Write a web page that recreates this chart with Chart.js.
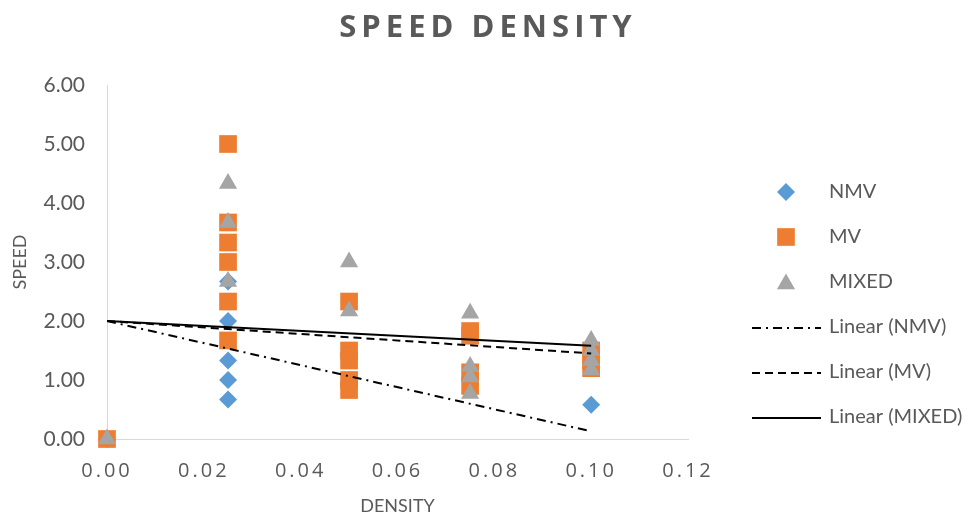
<!DOCTYPE html>
<html>
<head>
<meta charset="utf-8">
<script src="https://cdn.jsdelivr.net/npm/chart.js@4.4.1/dist/chart.umd.min.js"></script>
<style>
  html, body { margin: 0; padding: 0; background: #fff; }
  #wrap { width: 976px; height: 518px; }
</style>
</head>
<body>
<div id="wrap"><canvas id="chart"></canvas></div>
<script>
// x positions (density) and speeds
const nmvDensity = [0, 0.025, 0.025, 0.025, 0.025, 0.025, 0.1];
const nmvSpeed   = [0, 2.67, 2.0, 1.33, 1.0, 0.67, 0.58];

const mvDensity = [0, 0.025, 0.025, 0.025, 0.025, 0.025, 0.025,
                   0.05, 0.05, 0.05, 0.05, 0.05,
                   0.075, 0.075, 0.075, 0.075,
                   0.1, 0.1, 0.1];
const mvSpeed   = [0, 5.0, 3.67, 3.33, 3.0, 2.33, 1.67,
                   2.33, 1.5, 1.33, 1.0, 0.83,
                   1.83, 1.75, 1.13, 0.9,
                   1.5, 1.33, 1.2];

const mixedDensity = [0, 0.025, 0.025, 0.025, 0.05, 0.05,
                      0.075, 0.075, 0.075, 0.075,
                      0.1, 0.1, 0.1, 0.1];
const mixedSpeed   = [0, 4.33, 3.67, 2.67, 3.0, 2.17,
                      2.13, 1.23, 1.05, 0.77,
                      1.67, 1.5, 1.33, 1.17];

// trend line end points
const trendDensity = [0, 0.1];
const nmvTrend   = [2.0, 0.13];
const mvTrend    = [2.0, 1.45];
const mixedTrend = [2.0, 1.58];

const xTicks = [0, 0.02, 0.04, 0.06, 0.08, 0.10, 0.12];
const yTicks = [0, 1, 2, 3, 4, 5, 6];

const legendNames = ['NMV', 'MV', 'MIXED', 'Linear (NMV)', 'Linear (MV)', 'Linear (MIXED)'];

const blue = '#5B9BD5';
const orange = '#ED7D31';
const grey = '#A5A5A5';
const textGrey = '#595959';

function toPoints(xs, ys) {
  return xs.map((x, i) => ({ x: x, y: ys[i] }));
}

const titlePlugin = {
  id: 'titleAndLegend',
  beforeDraw(chart) {
    // widen letter spacing of x tick labels like the original
    const sx = chart.scales.x;
    if (!sx._wrapped) {
      const orig = sx.drawLabels;
      sx.drawLabels = function (area) {
        const c = this.ctx;
        c.save();
        c.letterSpacing = '3px';
        orig.call(this, area);
        c.restore();
      };
      sx._wrapped = true;
    }
  },
  afterDraw(chart) {
    const ctx = chart.ctx;
    ctx.save();
    ctx.letterSpacing = '5px';
    ctx.font = 'bold 31px "Open Sans"';
    ctx.fillStyle = textGrey;
    ctx.textAlign = 'center';
    ctx.textBaseline = 'middle';
    ctx.fillText('SPEED DENSITY', 488, 28);
    ctx.restore();

    // legend
    const startY = 192;
    const gap = 45;
    const markers = [
      { style: 'rectRot', color: blue, r: 9 },
      { style: 'rect', color: orange, r: 12.5 },
      { style: 'triangle', color: grey, r: 10.5 }
    ];
    const dashes = [[9, 5, 2, 5], [8, 5], []];
    ctx.save();
    ctx.font = '20px Lato';
    ctx.textBaseline = 'middle';
    ctx.textAlign = 'left';
    legendNames.forEach((name, i) => {
      const y = startY + i * gap;
      if (i < 3) {
        const m = markers[i];
        ctx.fillStyle = m.color;
        ctx.strokeStyle = m.color;
        Chart.helpers.drawPoint(ctx, { pointStyle: m.style, radius: m.r, borderWidth: 0, rotation: 0 },
          786, m.style === 'triangle' ? y + 2 : y);
      } else {
        ctx.save();
        ctx.strokeStyle = '#000';
        ctx.lineWidth = 2;
        ctx.setLineDash(dashes[i - 3]);
        ctx.beginPath();
        ctx.moveTo(752, y + 1);
        ctx.lineTo(821, y + 1);
        ctx.stroke();
        ctx.restore();
      }
      ctx.fillStyle = textGrey;
      ctx.fillText(name, 829, y);
    });
    ctx.restore();
  }
};

new Chart(document.getElementById('chart'), {
  type: 'scatter',
  data: {
    datasets: [
      {
        label: 'NMV',
        data: toPoints(nmvDensity, nmvSpeed),
        pointStyle: 'rectRot',
        pointRadius: 9,
        backgroundColor: blue,
        borderWidth: 0,
        clip: false,
        order: 6
      },
      {
        label: 'MV',
        data: toPoints(mvDensity, mvSpeed),
        pointStyle: 'rect',
        pointRadius: 12.5,
        backgroundColor: orange,
        borderWidth: 0,
        clip: false,
        order: 5
      },
      {
        label: 'MIXED',
        data: toPoints(mixedDensity, mixedSpeed),
        pointStyle: 'triangle',
        pointRadius: 10.5,
        backgroundColor: grey,
        borderWidth: 0,
        clip: false,
        order: 4
      },
      {
        label: 'Linear (NMV)',
        type: 'line',
        data: toPoints(trendDensity, nmvTrend),
        borderColor: '#000',
        borderWidth: 2,
        borderDash: [9, 5, 2, 5],
        pointRadius: 0,
        fill: false,
        order: 3
      },
      {
        label: 'Linear (MV)',
        type: 'line',
        data: toPoints(trendDensity, mvTrend),
        borderColor: '#000',
        borderWidth: 2,
        borderDash: [8, 5],
        pointRadius: 0,
        fill: false,
        order: 2
      },
      {
        label: 'Linear (MIXED)',
        type: 'line',
        data: toPoints(trendDensity, mixedTrend),
        borderColor: '#000',
        borderWidth: 2,
        pointRadius: 0,
        fill: false,
        order: 1
      }
    ]
  },
  options: {
    responsive: true,
    maintainAspectRatio: false,
    animation: false,
    layout: { padding: { left: 0, right: 288, top: 85, bottom: 0 } },
    plugins: {
      legend: { display: false },
      title: { display: false },
      tooltip: { enabled: false }
    },
    scales: {
      x: {
        type: 'linear',
        min: 0,
        max: 0.12,
        afterBuildTicks(scale) { scale.ticks = xTicks.map(v => ({ value: v })); },
        afterFit(scale) { scale.height = 79; },
        grid: { display: false, drawTicks: false },
        border: { color: '#D9D9D9', width: 1 },
        ticks: {
          color: textGrey,
          font: { family: 'Open Sans', size: 20 },
          padding: 20,
          maxRotation: 0,
          callback: v => v.toFixed(2)
        },
        title: {
          display: true,
          text: 'DENSITY',
          color: textGrey,
          font: { family: 'Lato', size: 18 },
          padding: { top: 0, bottom: 1 }
        }
      },
      y: {
        type: 'linear',
        min: 0,
        max: 6,
        afterBuildTicks(scale) { scale.ticks = yTicks.map(v => ({ value: v })); },
        afterFit(scale) { scale.width = 107; },
        grid: { display: false, drawTicks: false },
        border: { color: '#D9D9D9', width: 1 },
        ticks: {
          color: textGrey,
          font: { family: 'Lato', size: 21 },
          padding: 22,
          callback: v => v.toFixed(2)
        },
        title: {
          display: true,
          text: 'SPEED',
          color: textGrey,
          font: { family: 'Lato', size: 18 },
          padding: { top: 9, bottom: 0 }
        }
      }
    }
  },
  plugins: [titlePlugin]
});
</script>
</body>
</html>
